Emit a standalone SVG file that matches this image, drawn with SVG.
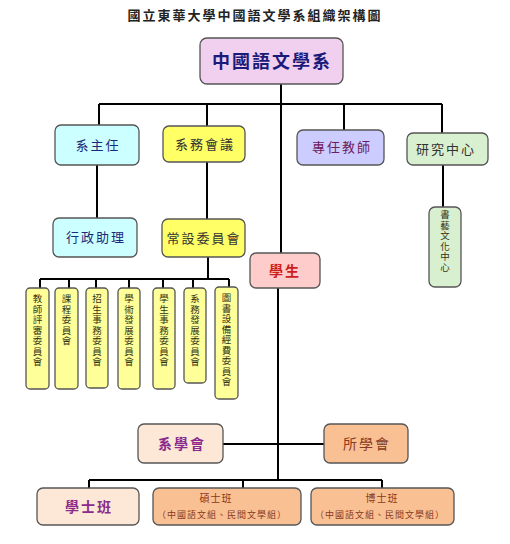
<svg xmlns="http://www.w3.org/2000/svg" width="510" height="544" viewBox="0 0 510 544">
<style>
  text { font-family: "Noto Sans CJK TC", "Noto Sans CJK SC", sans-serif; text-anchor: middle; }
  .box { stroke: #555; stroke-width: 1.3; }
  .conn { stroke: #000; stroke-width: 2; fill: none; }
  .t13 { font-size: 13px; letter-spacing: 2px; }
  .vt { font-size: 9.5px; fill: #333311; writing-mode: vertical-rl; text-orientation: upright; text-anchor: start; letter-spacing: 1px; }
  .cyan { fill: #ccffff; }
  .yel { fill: #ffff66; }
  .lyel { fill: #ffff99; }
  .peach { fill: #fde8d8; }
  .orange { fill: #f9c093; }
</style>
<rect width="510" height="544" fill="#fff"/>
<text x="255" y="20" font-size="13" font-weight="bold" letter-spacing="2" fill="#222">國立東華大學中國語文學系組織架構圖</text>

<g id="connectors" class="conn">
  <path d="M281 84 V104 M99 104 H442 M99 104 V125 M207 104 V126 M344 104 V130 M442 104 V133 M281 104 V253"/>
  <path d="M97 165 V218 M207 162 V219 M443 165 V207"/>
  <path d="M208 257 V279 M40 279 H229 M40 279 V288 M69 279 V288 M96 279 V288 M129 279 V288 M163 279 V288 M193 279 V288 M229 279 V287"/>
  <path d="M278 288 V480 M223 444 H324 M89 480 H382 M89 480 V488 M243 480 V488 M382 480 V488"/>
</g>

<g id="dept">
  <rect class="box" x="200" y="38" width="143" height="46" rx="7" fill="#f0d0ee"/>
  <text x="272" y="68" font-size="18" font-weight="bold" letter-spacing="2" fill="#1a1a7a">中國語文學系</text>
</g>
<g id="chair">
  <rect class="box cyan" x="55" y="125" width="84" height="40" rx="6"/>
  <text class="t13" x="98" y="150" fill="#1a2a7a">系主任</text>
</g>
<g id="council">
  <rect class="box yel" x="163" y="126" width="82" height="36" rx="6"/>
  <text class="t13" x="205" y="149" fill="#333">系務會議</text>
</g>
<g id="faculty">
  <rect class="box" x="297" y="130" width="87" height="35" rx="6" fill="#ccccff"/>
  <text class="t13" x="342" y="152" fill="#6a2060">專任教師</text>
</g>
<g id="research">
  <rect class="box" x="407" y="133" width="81" height="32" rx="6" fill="#d8f0d0"/>
  <text class="t13" x="446" y="154" fill="#333">研究中心</text>
</g>
<g id="admin">
  <rect class="box cyan" x="53" y="218" width="84" height="39" rx="6"/>
  <text class="t13" x="96" y="242" fill="#1a2a7a">行政助理</text>
</g>
<g id="standing">
  <rect class="box yel" x="162" y="219" width="83" height="38" rx="6"/>
  <text class="t13" x="204" y="243" fill="#333">常設委員會</text>
</g>
<g id="calligraphy">
  <rect class="box" x="429" y="207" width="32" height="80" rx="6" fill="#d8f0d0"/>
  <text class="vt" x="445" y="210" fill="#333">書藝文化中心</text>
</g>
<g id="students">
  <rect class="box" x="250" y="253" width="70" height="35" rx="6" fill="#ffcccc"/>
  <text x="285" y="276" font-size="14" font-weight="bold" letter-spacing="2" fill="#cc2020">學生</text>
</g>

<g id="c1">
  <rect class="box lyel" x="26" y="288" width="23" height="101" rx="4"/>
  <text class="vt" x="37.5" y="294">教師評審委員會</text>
</g>
<g id="c2">
  <rect class="box lyel" x="55" y="288" width="23" height="101" rx="4"/>
  <text class="vt" x="66.5" y="294">課程委員會</text>
</g>
<g id="c3">
  <rect class="box lyel" x="86" y="288" width="22" height="100" rx="4"/>
  <text class="vt" x="97" y="294">招生事務委員會</text>
</g>
<g id="c4">
  <rect class="box lyel" x="118" y="288" width="22" height="101" rx="4"/>
  <text class="vt" x="129" y="294">學術發展委員會</text>
</g>
<g id="c5">
  <rect class="box lyel" x="153" y="288" width="22" height="101" rx="4"/>
  <text class="vt" x="164" y="294">學生事務委員會</text>
</g>
<g id="c6">
  <rect class="box lyel" x="184" y="288" width="22" height="95" rx="4"/>
  <text class="vt" x="195" y="294">系務發展委員會</text>
</g>
<g id="c7">
  <rect class="box lyel" x="215" y="287" width="23" height="112" rx="4"/>
  <text class="vt" x="226.5" y="293">圖書設備經費委員會</text>
</g>

<g id="dept-assoc">
  <rect class="box peach" x="138" y="424" width="85" height="39" rx="6"/>
  <text x="182" y="449" font-size="14" font-weight="bold" letter-spacing="2" fill="#8a2a8a">系學會</text>
</g>
<g id="grad-assoc">
  <rect class="box orange" x="324" y="424" width="84" height="39" rx="6"/>
  <text x="367" y="449" font-size="14" letter-spacing="2" fill="#8a3a20">所學會</text>
</g>
<g id="bachelor">
  <rect class="box peach" x="37" y="488" width="102" height="37" rx="6"/>
  <text x="89" y="512" font-size="14" font-weight="bold" letter-spacing="2" fill="#8a2a8a">學士班</text>
</g>
<g id="master">
  <rect class="box orange" x="153" y="488" width="148" height="37" rx="6"/>
  <text x="216" y="502" font-size="10" letter-spacing="1" fill="#8a3a20">碩士班</text>
  <text x="222" y="518" font-size="9" letter-spacing="1" fill="#8a3a20">（中國語文組、民間文學組）</text>
</g>
<g id="doctor">
  <rect class="box orange" x="311" y="488" width="143" height="37" rx="6"/>
  <text x="382" y="502" font-size="10" letter-spacing="1" fill="#8a3a20">博士班</text>
  <text x="380" y="518" font-size="9" letter-spacing="1" fill="#8a3a20">（中國語文組、民間文學組）</text>
</g>
</svg>
